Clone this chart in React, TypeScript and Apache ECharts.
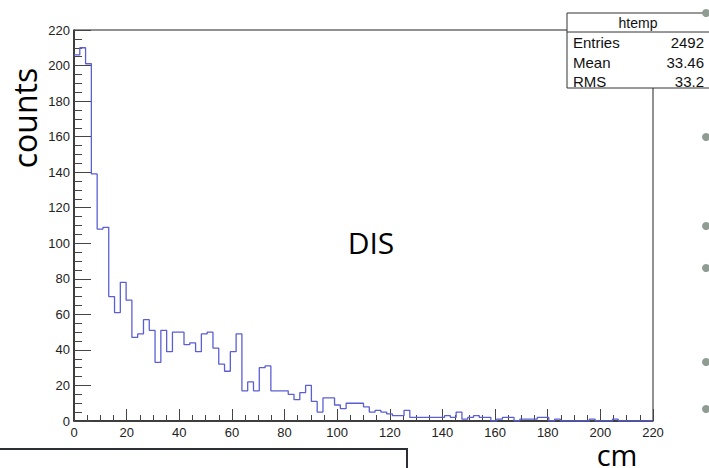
import React, { useEffect, useRef } from 'react';
import * as echarts from 'echarts';

const binWidth = 2.2;
const binCounts = [
  206, 210, 201, 139, 108, 109, 70, 61, 78, 68,
  47, 49, 57, 51, 33, 51, 39, 50, 50, 43,
  44, 39, 49, 50, 41, 32, 28, 39, 49, 17,
  22, 17, 30, 31, 17, 17, 17, 15, 12, 16,
  20, 11, 5, 13, 13, 9, 7, 10, 10, 10,
  8, 5, 6, 5, 4, 3, 3, 6, 2, 2,
  2, 2, 2, 2, 3, 2, 5, 1, 2, 3,
  2, 2, 0, 1, 2, 2, 0, 1, 1, 1,
  2, 2, 0, 1, 0, 0, 0, 0, 0, 1,
  0, 0, 0, 1, 0, 0, 0, 0, 0, 0,
];
const axisMin = 0;
const axisMax = 220;
const axisInterval = 20;
const statsTitle = 'htemp';
const statsLabels = ['Entries', 'Mean', 'RMS'];
const statsValues = ['2492', '33.46', '33.2'];
const yTitle = 'counts';
const xTitle = 'cm';
const annotation = 'DIS';
const bulletY = [13, 137, 226, 268, 362, 409];

export default function App() {
  const ref = useRef<HTMLDivElement>(null);
  useEffect(() => {
    if (!ref.current) return;
    const chart = echarts.init(ref.current, null, { renderer: 'svg' });
    const stepData: number[][] = binCounts.map((c, i) => [+(i * binWidth).toFixed(3), c]);
    stepData.push([binCounts.length * binWidth, binCounts[binCounts.length - 1]]);

    const labelFont = 'Liberation Sans';
    const titleFont = 'Open Sans';

    const graphic: any[] = [];
    // stats box
    graphic.push({ type: 'rect', shape: { x: 567, y: 13, width: 145, height: 75 }, style: { fill: '#fff', stroke: '#333', lineWidth: 1 }, z: 10 });
    graphic.push({ type: 'line', shape: { x1: 567, y1: 32, x2: 712, y2: 32 }, style: { stroke: '#333', lineWidth: 1 }, z: 11 });
    graphic.push({ type: 'text', x: 638, y: 23, style: { text: statsTitle, font: `14px "${labelFont}"`, fill: '#111', align: 'center', verticalAlign: 'middle' }, z: 12 });
    const rowY = [42, 62, 81];
    statsLabels.forEach((lab, i) => {
      graphic.push({ type: 'text', x: 573, y: rowY[i], style: { text: lab, font: `15px "${labelFont}"`, fill: '#111', align: 'left', verticalAlign: 'middle' }, z: 12 });
      graphic.push({ type: 'text', x: 704, y: rowY[i], style: { text: statsValues[i], font: `15px "${labelFont}"`, fill: '#111', align: 'right', verticalAlign: 'middle' }, z: 12 });
    });
    // bullets on right
    bulletY.forEach((y) => {
      graphic.push({ type: 'circle', shape: { cx: 706, cy: y, r: 4 }, style: { fill: '#8e9c92' }, z: 13 });
    });
    // titles
    graphic.push({ type: 'text', x: 24, y: 118, rotation: Math.PI / 2, style: { text: yTitle, font: `32px "${titleFont}"`, fill: '#000', align: 'center', verticalAlign: 'middle', lineHeight: 30 }, z: 12 });
    graphic.push({ type: 'text', x: 617, y: 466, style: { text: xTitle, font: `29px "${titleFont}"`, fill: '#000', align: 'center', verticalAlign: 'bottom', lineHeight: 24 }, z: 12 });
    graphic.push({ type: 'text', x: 371, y: 242, style: { text: annotation, font: `30px "${titleFont}"`, fill: '#000', align: 'center', verticalAlign: 'middle' }, z: 12 });
    // bottom-left slide box
    graphic.push({ type: 'polyline', shape: { points: [[0, 449], [407, 449], [407, 470]] }, style: { stroke: '#2c2f36', lineWidth: 2, fill: 'none' }, z: 12 });

    chart.setOption({
      animation: false,
      backgroundColor: '#fff',
      grid: { left: 74, top: 30, right: 56, bottom: 47, show: true, borderColor: '#222', borderWidth: 1 },
      xAxis: {
        type: 'value', min: axisMin, max: axisMax, interval: axisInterval,
        axisLine: { show: true, onZero: false, lineStyle: { color: '#222', width: 1.5 } },
        axisTick: { show: true, inside: true, length: 12, lineStyle: { color: '#444', width: 1 } },
        minorTick: { show: true, splitNumber: 4, length: 6, lineStyle: { color: '#444', width: 1 } },
        axisLabel: { color: '#222', fontFamily: labelFont, fontSize: 13, margin: 5 },
        splitLine: { show: false },
      },
      yAxis: {
        type: 'value', min: axisMin, max: axisMax, interval: axisInterval,
        axisLine: { show: true, onZero: false, lineStyle: { color: '#222', width: 1.5 } },
        axisTick: { show: true, inside: true, length: 17, lineStyle: { color: '#444', width: 1 } },
        minorTick: { show: true, splitNumber: 4, length: 8, lineStyle: { color: '#444', width: 1 } },
        axisLabel: { color: '#222', fontFamily: labelFont, fontSize: 13, margin: 4 },
        splitLine: { show: false },
      },
      series: [{
        type: 'line', step: 'end', data: stepData, showSymbol: false, symbol: 'none',
        lineStyle: { color: '#5b5fd3', width: 1.3 }, clip: true,
      }],
      graphic,
    });
    return () => chart.dispose();
  }, []);
  return <div ref={ref} style={{ position: 'fixed', left: 0, top: 0, width: 709, height: 468 }} />;
}
